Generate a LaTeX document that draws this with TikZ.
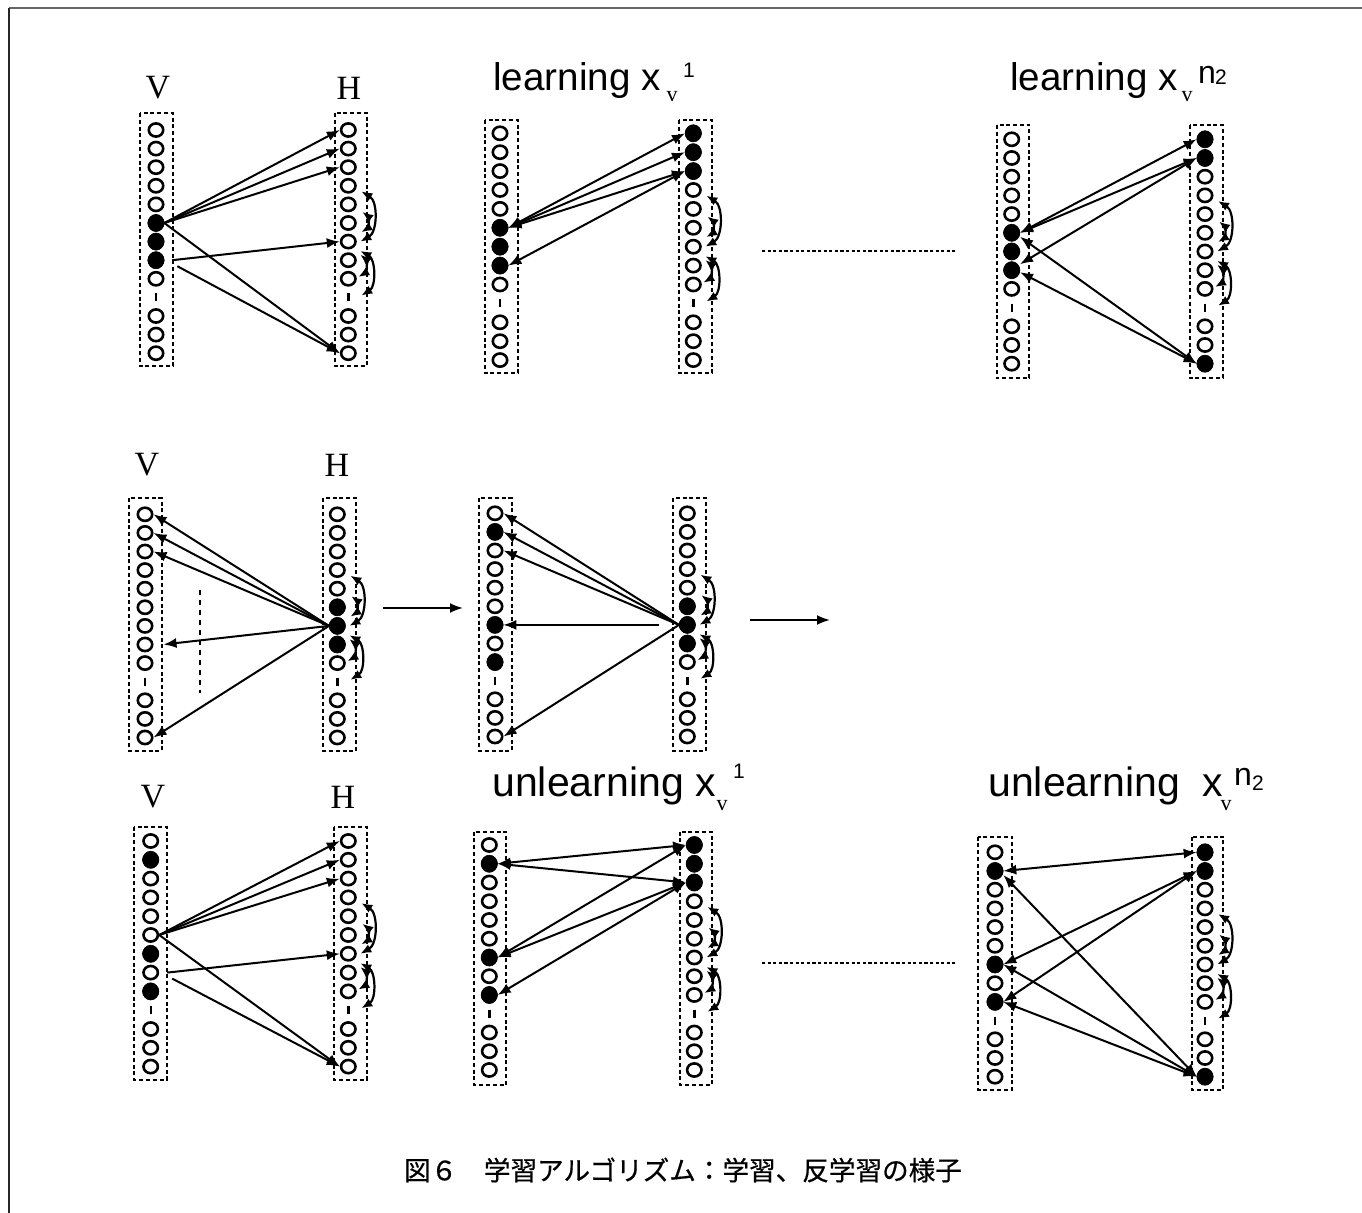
\documentclass[tikz,border=0pt]{standalone}
\usepackage{fontspec}
\setmainfont{Liberation Serif}
\newfontfamily\lsans{Liberation Sans}
\newfontfamily\cjk{Noto Sans CJK JP}[FakeBold=0.6]
\usetikzlibrary{arrows.meta,calc,shapes.geometric}

\tikzset{
  emptyc/.style={ellipse,draw,line width=1.3pt,minimum width=7.2pt,minimum height=6.6pt,inner sep=0pt},
  fullc/.style={ellipse,fill,draw,line width=0.3pt,minimum width=8pt,minimum height=8.6pt,inner sep=0pt},
  dbox/.style={line width=1.1pt,dash pattern=on 2pt off 1.4pt},
  gapmark/.style={line width=1.2pt},
  conn/.style={line width=1pt,-{Latex[length=6.5pt,width=5pt]}},
  bconn/.style={line width=1pt,{Latex[length=6.5pt,width=5pt]}-{Latex[length=6.5pt,width=5pt]}},
  arcarr/.style={line width=1.1pt,{Latex[length=5.5pt,width=4.5pt]}-{Latex[length=5.5pt,width=4.5pt]}},
  dotline/.style={line width=0.6pt,dash pattern=on 1.6pt off 1.2pt},
  vdash/.style={line width=0.8pt,dash pattern=on 2.5pt off 2.5pt},
  lab/.style={font=\fontsize{17}{20}\selectfont,inner sep=0pt},
  ttl/.style={font=\lsans\fontsize{19.3}{22}\selectfont,inner sep=0pt,anchor=base west},
  ttlb/.style={font=\lsans\fontsize{20.5}{24}\selectfont,inner sep=0pt,anchor=base west},
  subv/.style={font=\fontsize{11}{12}\selectfont,inner sep=0pt},
  supn/.style={font=\lsans\fontsize{10.5}{12}\selectfont,inner sep=0pt},
  bign/.style={font=\lsans\fontsize{16}{18}\selectfont,inner sep=0pt},
}

% #1 name prefix, #2 x, #3 y0, #4 step
\newcommand\unitcol[4]{%
  \foreach \i in {0,...,12}{%
    \ifnum\i=9\relax
      \coordinate (#1\i) at (#2,{#3+\i*#4});
      \draw[gapmark] (#2,{#3+\i*#4-4}) -- (#2,{#3+\i*#4+4});
    \else
      \node[emptyc] (#1\i) at (#2,{#3+\i*#4}) {};
    \fi}%
}
% filled units: #1 prefix, #2 x, #3 y0, #4 step, #5 list
\newcommand\fillcol[5]{%
  \foreach \j in {#5}{\node[fullc] (#1\j) at (#2,{#3+\j*#4}) {};}%
}
% lateral arcs beside a hidden column: #1 x, #2 y0, #3 step
\newcommand\harcs[3]{%
  \draw[arcarr] ({#1+13},{#2+3.3*#3}) to[bend left=60] ({#1+12},{#2+6.0*#3});
  \draw[arcarr] ({#1+14},{#2+4.4*#3}) to[bend left=55] ({#1+13},{#2+5.5*#3});
  \draw[arcarr] ({#1+12},{#2+6.5*#3}) to[bend left=60] ({#1+13},{#2+8.9*#3});
  \draw[arcarr] ({#1+12},{#2+6.7*#3}) to[bend left=55] ({#1+10},{#2+7.9*#3});
}

\begin{document}
\begin{tikzpicture}[x=0.5pt,y=-0.5pt]
\useasboundingbox (0,0) rectangle (1362,1213);
\fill[white] (0,0) rectangle (1362,1213);
% frame
\draw[line width=0.8pt,black!60] (9,8) -- (1362,8);
\draw[line width=0.8pt,black!85] (9,8) -- (9,1213);

%================ Row 1 =================
% Panel A
\node[lab] (labVa) at (158,88) {V};
\node[lab] (labHa) at (349,88) {H};
\draw[dbox] (140,113) rectangle (173,366);
\draw[dbox] (335,113) rectangle (367,366);
\unitcol{aV}{156}{130}{18.6}
\fillcol{aV}{156}{130}{18.6}{5,6,7}
\unitcol{aH}{348.3}{130}{18.6}
\harcs{348.3}{130}{18.6}
\draw[conn] (aV5.east) -- (aH0.west);
\draw[conn] (aV5.east) -- (aH1.west);
\draw[conn] (aV5.east) -- (aH2.west);
\draw[conn] (aV5.east) -- (aH12.west);
\draw[conn] ([xshift=4pt]aV7.east) -- (aH6.west);
\draw[conn] ([xshift=6.5pt,yshift=-3pt]aV7.east) -- (aH12.west);

% Panel B
\node[ttl] (tb) at (493,91) {learning x};
\node[subv] (tbv) at (672,97) {v};
\node[supn] (tbs) at (689,70) {1};
\draw[dbox] (485,120) rectangle (518,373);
\draw[dbox] (679,120) rectangle (712,373);
\unitcol{bV}{500}{133.3}{18.9}
\fillcol{bV}{500}{133.3}{18.9}{5,6,7}
\unitcol{bH}{693.3}{133.3}{18.9}
\fillcol{bH}{693.3}{133.3}{18.9}{0,1,2}
\harcs{693.3}{133.3}{18.9}
\draw[bconn] (bV5.east) -- (bH0.west);
\draw[bconn] (bV5.east) -- (bH1.west);
\draw[bconn] (bV5.east) -- (bH2.west);
\draw[bconn] (bV7.east) -- (bH2.west);

% dotted separator
\coordinate (dsa) at (762,251);
\coordinate (dsb) at (955,251);
\draw[dotline] (dsa) -- (dsb);

% Panel C
\node[ttl] (tc) at (1010,91) {learning x};
\node[subv] (tcv) at (1187,97) {v};
\node[bign] (tcn) at (1207,75) {n};
\node[supn] (tcs) at (1221,77) {2};
\draw[dbox] (996.7,125) rectangle (1029.3,378);
\draw[dbox] (1190,125) rectangle (1222.7,378);
\unitcol{cV}{1011.7}{139.3}{18.7}
\fillcol{cV}{1011.7}{139.3}{18.7}{5,6,7}
\unitcol{cH}{1205}{139.3}{18.7}
\fillcol{cH}{1205}{139.3}{18.7}{0,1,12}
\harcs{1205}{139.3}{18.7}
\draw[bconn] (cV5.east) -- (cH0.west);
\draw[bconn] (cV5.east) -- (cH1.west);
\draw[bconn] ([yshift=3pt]cV7.east) -- (cH1.west);
\draw[bconn] ([yshift=-2pt]cV5.east) -- (cH12.west);
\draw[bconn] ([yshift=-1pt]cV7.east) -- (cH12.west);

%================ Row 2 =================
% Panel D
\node[lab] (labVd) at (147,465) {V};
\node[lab] (labHd) at (337,465) {H};
\draw[dbox] (129.3,498.3) rectangle (161.7,751);
\draw[dbox] (323.3,498.3) rectangle (356,751);
\unitcol{dV}{145}{514.3}{18.6}
\unitcol{dH}{337.3}{514.3}{18.6}
\fillcol{dH}{337.3}{514.3}{18.6}{5,6,7}
\harcs{337.3}{514.3}{18.6}
\draw[conn] (dH6.west) -- (dV0.east);
\draw[conn] (dH6.west) -- (dV1.east);
\draw[conn] (dH6.west) -- (dV2.east);
\draw[conn] (dH6.west) -- ([xshift=5pt]dV7.east);
\draw[conn] (dH6.west) -- (dV12.east);
\coordinate (vda) at (200,590);
\coordinate (vdb) at (200,693);
\draw[vdash] (vda) -- (vdb);

% step arrows
\coordinate (sa1) at (383,608);
\coordinate (sa2) at (463,608);
\draw[conn] (sa1) -- (sa2);
\coordinate (sb1) at (750,620);
\coordinate (sb2) at (830,620);
\draw[conn] (sb1) -- (sb2);

% Panel E
\draw[dbox] (479.3,498.3) rectangle (511.7,751);
\draw[dbox] (673.3,498.3) rectangle (706,751);
\unitcol{eV}{495}{513.3}{18.6}
\fillcol{eV}{495}{513.3}{18.6}{1,6,8}
\unitcol{eH}{687.3}{513.3}{18.6}
\fillcol{eH}{687.3}{513.3}{18.6}{5,6,7}
\harcs{687.3}{513.3}{18.6}
\draw[conn] (eH6.west) -- (eV0.east);
\draw[conn] (eH6.west) -- (eV1.east);
\draw[conn] (eH6.west) -- (eV2.east);
\draw[conn] ([xshift=-10pt]eH6.west) -- (eV6.east);
\draw[conn] (eH6.west) -- (eV12.east);

%================ Row 3 =================
% Panel F
\node[lab] (labVf) at (153,797) {V};
\node[lab] (labHf) at (343,797) {H};
\draw[dbox] (134,826.7) rectangle (166.7,1080);
\draw[dbox] (334,826.7) rectangle (366.7,1080);
\unitcol{fV}{150.7}{841}{18.8}
\fillcol{fV}{150.7}{841}{18.8}{1,6,8}
\unitcol{fH}{348.3}{841}{18.8}
\harcs{348.3}{841}{18.8}
\draw[conn] (fV5.east) -- (fH0.west);
\draw[conn] (fV5.east) -- (fH1.west);
\draw[conn] (fV5.east) -- (fH2.west);
\draw[conn] (fV5.east) -- (fH12.west);
\draw[conn] ([xshift=4pt]fV7.east) -- (fH6.west);
\draw[conn] ([xshift=6.5pt,yshift=-3pt]fV7.east) -- (fH12.west);

% Panel G
\node[ttlb] (tg) at (492,797) {unlearning x};
\node[subv] (tgv) at (722,806) {v};
\node[supn] (tgs) at (739,771) {1};
\draw[dbox] (474,831.7) rectangle (506,1085);
\draw[dbox] (680,831.7) rectangle (711.7,1085);
\unitcol{gV}{489.3}{845}{18.75}
\fillcol{gV}{489.3}{845}{18.75}{1,6,8}
\unitcol{gH}{694.3}{845}{18.75}
\fillcol{gH}{694.3}{845}{18.75}{0,1,2}
\harcs{694.3}{845}{18.75}
\draw[bconn] (gV1.east) -- (gH0.west);
\draw[bconn] (gV1.east) -- (gH2.west);
\draw[bconn] (gV6.east) -- (gH0.west);
\draw[bconn] (gV6.east) -- (gH2.west);
\draw[bconn] (gV8.east) -- (gH2.west);

% dotted separator
\coordinate (dta) at (762,963);
\coordinate (dtb) at (955,963);
\draw[dotline] (dta) -- (dtb);

% Panel H
\node[ttlb] (th) at (988,797) {unlearning\ \ x};
\node[subv] (thv) at (1226,806) {v};
\node[bign] (thn) at (1243,777) {n};
\node[supn] (ths) at (1258,783) {2};
\draw[dbox] (978.3,836.7) rectangle (1011.7,1090);
\draw[dbox] (1191.7,836.7) rectangle (1223.3,1090);
\unitcol{hV}{995}{852.3}{18.7}
\fillcol{hV}{995}{852.3}{18.7}{1,6,8}
\unitcol{hH}{1205}{852.3}{18.7}
\fillcol{hH}{1205}{852.3}{18.7}{0,1,12}
\harcs{1205}{852.3}{18.7}
\draw[bconn] (hV1.east) -- (hH0.west);
\draw[bconn] (hV6.east) -- (hH1.west);
\draw[bconn] (hV8.east) -- (hH1.west);
\draw[bconn] ([yshift=-2pt]hV1.east) -- (hH12.west);
\draw[bconn] (hV6.east) -- (hH12.west);
\draw[bconn] (hV8.east) -- (hH12.west);

% caption
\node[font=\cjk\fontsize{13.3}{16}\selectfont,inner sep=0pt] (cap) at (683,1170) {図６　学習アルゴリズム：学習、反学習の様子};
\end{tikzpicture}
\end{document}
